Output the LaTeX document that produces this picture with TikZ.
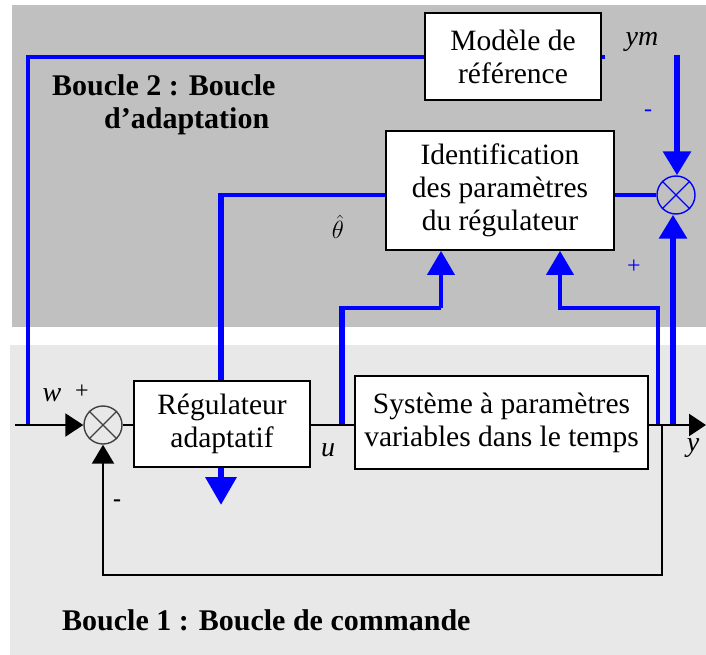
\documentclass[tikz,border=0pt]{standalone}
\usepackage{fontspec}
\setmainfont{Liberation Serif}
\usetikzlibrary{arrows.meta}
\pgfdeclarelayer{panel}
\pgfdeclarelayer{wires}
\pgfsetlayers{panel,wires,main}
\definecolor{panelgrey}{HTML}{C0C0C0}
\definecolor{panellight}{HTML}{E8E8E8}
\definecolor{wireblue}{HTML}{0000FF}
\tikzset{
  blockbox/.style={draw=black, line width=1.8pt, fill=white, align=center,
    inner sep=2pt, font=\fontsize{29.5}{33}\selectfont},
  sumnode/.style={circle, minimum size=38pt, inner sep=0pt, line width=1.4pt},
  sigline/.style={draw=black, line width=2.2pt},
  bluethin/.style={draw=wireblue, line width=4pt},
  bluethick/.style={draw=wireblue, line width=6.5pt},
  bluetip/.style={-{Triangle[length=24pt,width=27pt]}},
  blacktip/.style={-{Triangle[length=18pt,width=23pt]}},
  sig/.style={inner sep=0pt, font=\fontsize{28}{28}\selectfont\itshape},
  sign/.style={inner sep=0pt, font=\fontsize{24}{24}\selectfont},
  loopname/.style={inner sep=0pt, font=\fontsize{30}{30}\selectfont\bfseries},
}
\begin{document}
\begin{tikzpicture}[x=1pt, y=-1pt]
\useasboundingbox (0,0) rectangle (706,655);

% background panels of the two loops
\begin{pgfonlayer}{panel}
  \fill[panelgrey] (12,5) rectangle (706,327);
  \fill[panellight] (10,345) rectangle (706,655);
\end{pgfonlayer}

% blocks
\node[blockbox, minimum width=176pt, minimum height=87pt] (modele) at (513,56.5) {Modèle de\\référence};
\node[blockbox, minimum width=228pt, minimum height=119pt] (ident) at (500,190.5) {Identification\\des paramètres\\du régulateur};
\node[blockbox, minimum width=176pt, minimum height=86pt] (regul) at (222,424) {Régulateur\\adaptatif};
\node[blockbox, minimum width=293pt, minimum height=93pt] (sys) at (501.5,422.5) {Système à paramètres\\variables dans le temps};

% summing junctions
\node[sumnode, draw=black!75] (sum1) at (103,425) {};
\draw[black!75, line width=1.2pt] (sum1.north west) -- (sum1.south east) (sum1.north east) -- (sum1.south west);
\node[sumnode, draw=wireblue] (sum2) at (676,195) {};
\draw[wireblue, line width=1.2pt] (sum2.north west) -- (sum2.south east) (sum2.north east) -- (sum2.south west);

% control loop (black)
\coordinate (win) at (15,425);
\coordinate (yout) at (706,425);
\coordinate (fbtop) at (662,425);
\coordinate (fbbot) at (662,575);
\draw[sigline, blacktip] (win) -- (sum1.west);
\draw[sigline] (sum1.east) -- (sum1.east -| regul.west);
\draw[sigline] (sum1.east -| regul.east) -- (sum1.east -| sys.west);
\draw[sigline, -{Triangle[length=17pt,width=22pt]}] (sum1.east -| sys.east) -- (yout);
\draw[sigline, -{Triangle[length=19pt,width=22pt]}] (fbtop) -- (fbbot) -| (sum1.south);

% adaptation loop (blue)
\begin{pgfonlayer}{wires}
  % reference to the model
  \coordinate (wtap) at (28,425);
  \coordinate (wtop) at (28,57);
  \draw[bluethin] (wtap) -- (wtop) -- (modele.west |- wtop);
  % model output to the comparator
  \coordinate (ymc) at (677,57);
  \draw[bluethin] (modele.east |- ymc) -- ++(3.25,0);
  \draw[bluethick, bluetip] (677,55) -- (ymc |- sum2.north);
  % plant output to the comparator
  \coordinate (ytap) at (673,425);
  \draw[bluethick, bluetip] (ytap) -- (ytap |- sum2.south);
  % error to the identifier
  \draw[bluethin] (sum2.west) -- (sum2.west -| ident.east);
  % estimated parameters to the controller
  \coordinate (thc) at (221,195);
  \draw[bluethin] (sum2.west -| ident.west) -- ++(-167.25,0);
  \draw[bluethick] (221,193) -- (thc |- regul.north);
  \coordinate (rdown) at (221,505);
  \draw[bluethick, -{Triangle[length=28pt,width=30pt]}] (thc |- regul.south) -- (rdown);
  % control signal to the identifier
  \coordinate (utap) at (342,425);
  \coordinate (uc) at (342,308);
  \coordinate (uc2) at (441,308);
  \draw[bluethick] (utap) -- (342,306);
  \draw[bluethin] (uc) -- (uc2);
  \draw[bluethin, bluetip] (uc2) -- (uc2 |- ident.south);
  % plant output to the identifier
  \coordinate (ytap2) at (658,425);
  \coordinate (yc) at (658,308);
  \coordinate (yc2) at (560,308);
  \draw[bluethin, bluetip] (ytap2) -- (yc) -- (yc2) -- (yc2 |- ident.south);
\end{pgfonlayer}

% signal labels
\node[sig] (lw) at (52,395) {w};
\node[sign] (lwp) at (82,392) {+};
\node[sig] (lu) at (328,450) {u};
\node[sig] (ly) at (693,448) {y};
\node[sig] (lym) at (642,42) {ym};
\node[inner sep=0pt, font=\fontsize{26}{26}\selectfont] (lth) at (338,227) {$\hat{\theta}$};
\node[sign, text=wireblue] (lmin) at (648,113) {-};
\node[sign, text=wireblue] (lplus) at (634,267) {+};
\node[sign, font=\fontsize{24}{24}\selectfont\bfseries] (lfb) at (117,503) {-};

% loop names
\node[loopname, anchor=base west] (b2a) at (52,96) {Boucle 2 : Boucle};
\node[loopname, anchor=base west] (b2b) at (104,129) {d’adaptation};
\node[loopname, anchor=base west] (b1) at (62,630) {Boucle 1 : Boucle de commande};
\end{tikzpicture}
\end{document}
